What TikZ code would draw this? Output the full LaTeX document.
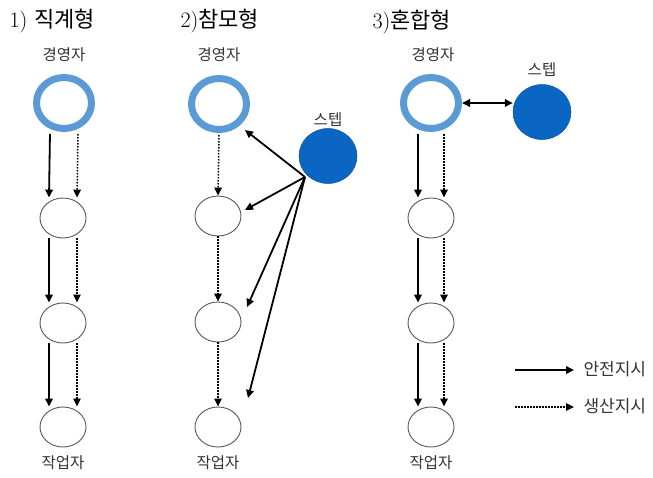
\documentclass[tikz,border=0pt]{standalone}
\usepackage{fontspec}
\newfontfamily\cjk{Noto Sans CJK KR}
\usetikzlibrary{arrows.meta,shapes.geometric}
\definecolor{ringblue}{RGB}{91,155,213}
\definecolor{staffblue}{RGB}{10,102,194}
\begin{document}
\begin{tikzpicture}[x=1pt,y=-1pt,
 ring/.style={ellipse, draw=ringblue, line width=7pt, minimum width=55pt, minimum height=51pt, inner sep=0pt},
 worker/.style={ellipse, draw=black!65, line width=0.9pt, minimum width=46pt, minimum height=40pt, inner sep=0pt},
 staff/.style={ellipse, fill=staffblue, draw=staffblue!80!black, line width=0.5pt, minimum width=58pt, minimum height=55pt, inner sep=0pt},
 lbl/.style={font=\cjk\fontsize{15.5}{18}\selectfont, text=black!80},
 leg/.style={font=\cjk\fontsize{17}{19}\selectfont, text=black!80, anchor=west},
 ttl/.style={font=\fontsize{22}{26}\selectfont, anchor=west},
 tip/.style={-{Triangle[length=8pt,width=7.5pt]}},
 safe/.style={tip, line width=1.8pt},
 prod/.style={tip, line width=1.5pt, dash pattern=on 1.5pt off 1.5pt},
]
\useasboundingbox (0,0) rectangle (653,477);
\fill[white] (0,0) rectangle (653,477);

% titles
\node[ttl] (t1) at (6,21) {1)\ {\cjk 직계형}};
\node[ttl] (t2) at (177,21) {2){\cjk 참모형}};
\node[ttl] (t3) at (369,22) {3){\cjk 혼합형}};

% column 1
\node[lbl] (m1) at (64,55) {경영자};
\node[ring] (r1) at (64,103) {};
\node[worker] (w11) at (63,218) {};
\node[worker] (w12) at (63,323) {};
\node[worker] (w13) at (63,427) {};
\node[lbl] (k1) at (63,463) {작업자};
\draw[safe, shorten <=2pt] ([xshift=-14pt]r1.south) -- ([xshift=-14pt]w11.north);
\draw[prod, shorten <=2pt] ([xshift=14pt]r1.south) -- ([xshift=14pt]w11.north);
\draw[safe] ([xshift=-14pt]w11.south) -- ([xshift=-14pt]w12.north);
\draw[prod] ([xshift=14pt]w11.south) -- ([xshift=14pt]w12.north);
\draw[safe] ([xshift=-14pt]w12.south) -- ([xshift=-14pt]w13.north);
\draw[prod] ([xshift=14pt]w12.south) -- ([xshift=14pt]w13.north);

% column 2
\node[lbl] (m2) at (219,55) {경영자};
\node[ring] (r2) at (219,104) {};
\node[worker] (w21) at (218,216) {};
\node[worker] (w22) at (218,322) {};
\node[worker] (w23) at (218,427) {};
\node[lbl] (k2) at (218,463) {작업자};
\node[staff] (s2) at (328,156) {};
\node[lbl] (p2) at (328,120) {스텝};
\draw[prod, shorten <=2pt] (r2.south) -- (w21.north);
\draw[prod] (w21.south) -- (w22.north);
\draw[prod] (w22.south) -- (w23.north);
\coordinate (o2) at ([shift={(-23,21)}]s2.center);
\draw[safe] (o2) -- ([shift={(26,26)}]r2.center);
\draw[safe] (o2) -- ([shift={(27,-6)}]w21.center);
\draw[safe] (o2) -- ([shift={(29,-15)}]w22.center);
\draw[safe] (o2) -- ([shift={(30,-29)}]w23.center);

% column 3
\node[lbl] (m3) at (433,55) {경영자};
\node[ring] (r3) at (431,103) {};
\node[worker] (w31) at (431,218) {};
\node[worker] (w32) at (431,323) {};
\node[worker] (w33) at (431,427) {};
\node[lbl] (k3) at (431,463) {작업자};
\node[staff] (s3) at (542,112) {};
\node[lbl] (p3) at (542,70) {스텝};
\draw[{Triangle[length=8pt,width=7.5pt]}-{Triangle[length=8pt,width=7.5pt]}, line width=1.8pt] (r3.east) -- (r3.east -| s3.west);
\draw[safe, shorten <=2pt] ([xshift=-13pt]r3.south) -- ([xshift=-13pt]w31.north);
\draw[prod, shorten <=2pt] ([xshift=13pt]r3.south) -- ([xshift=13pt]w31.north);
\draw[safe] ([xshift=-13pt]w31.south) -- ([xshift=-13pt]w32.north);
\draw[prod] ([xshift=13pt]w31.south) -- ([xshift=13pt]w32.north);
\draw[safe] ([xshift=-13pt]w32.south) -- ([xshift=-13pt]w33.north);
\draw[prod] ([xshift=13pt]w32.south) -- ([xshift=13pt]w33.north);

% legend
\coordinate (la) at (515,370);
\coordinate (lb) at (574,370);
\coordinate (lc) at (515,407);
\coordinate (ld) at (574,407);
\draw[safe] (la) -- (lb);
\draw[prod] (lc) -- (ld);
\node[leg] (g1) at (580,369) {안전지시};
\node[leg] (g2) at (580,406) {생산지시};
\end{tikzpicture}
\end{document}
